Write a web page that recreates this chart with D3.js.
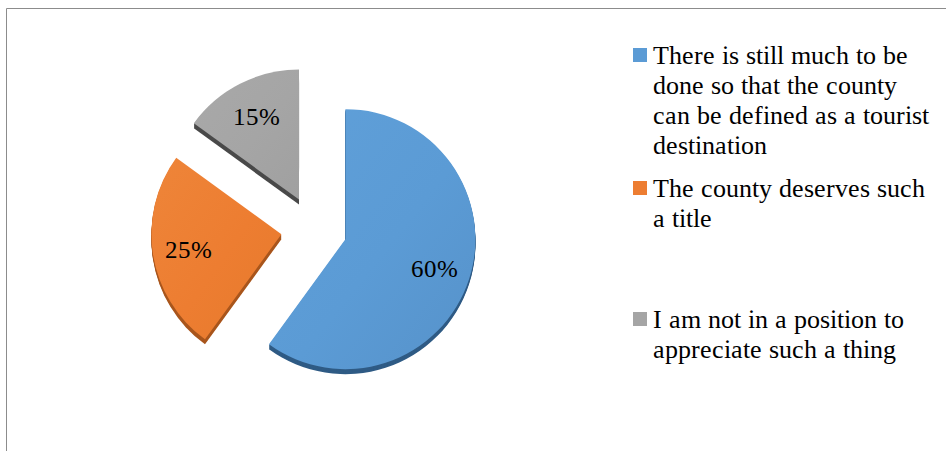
<!DOCTYPE html>
<html>
<head>
<meta charset="utf-8">
<script src="https://cdn.jsdelivr.net/npm/d3@7"></script>
<style>
  @font-face { font-family: "ChartSerif"; src: local("Liberation Serif"), local("LiberationSerif"), local("Times New Roman"); }
  text { font-family: "ChartSerif", "Times New Roman"; }
</style>
</head>
<body style="margin:0">
<svg id="chart" width="946" height="451"></svg>
<script>
// Survey answers (legend lines) and their shares (%)
const categories = [
  ["There is still much to be", "done so that the county", "can be defined as a tourist", "destination"],
  ["The county deserves such", "a title"],
  ["I am not in a position to", "appreciate such a thing"]
];
const values = [60, 25, 15];
const topColors  = ["#5B9BD5", "#ED7D31", "#A5A5A5"];
const lightColors = ["#60A0D9", "#EE8539", "#A9A9A9"];
const darkColors = ["#5692CA", "#E67A2C", "#A0A0A0"];
const sideColors = ["#2F5B85", "#A9561D", "#4A4A4A"];

const W = 946, H = 451;
const svg = d3.select("#chart");

// frame
svg.append("path")
  .attr("d", `M6.5,${H} V8.5 H${W}`)
  .attr("fill", "none")
  .attr("stroke", "#8C8C8C")
  .attr("stroke-width", 1);

const cx = 314, cy = 229, R = 130, explode = 33, depth = 5;

const pie = d3.pie().sort(null).value(d => d)(values);
const arc = d3.arc().innerRadius(0).outerRadius(R);
const labelArc = d3.arc().innerRadius(R * 0.72).outerRadius(R * 0.72);

const defs = svg.append("defs");
pie.forEach((p, i) => {
  const g = defs.append("linearGradient")
    .attr("id", "face" + i)
    .attr("x1", "0").attr("y1", "0").attr("x2", "1").attr("y2", "1");
  g.append("stop").attr("offset", "0%").attr("stop-color", lightColors[i]);
  g.append("stop").attr("offset", "55%").attr("stop-color", topColors[i]);
  g.append("stop").attr("offset", "100%").attr("stop-color", darkColors[i]);
});

const slices = svg.append("g")
  .selectAll("g")
  .data(pie)
  .join("g")
  .attr("transform", d => {
    const a = (d.startAngle + d.endAngle) / 2;
    const x = cx + Math.sin(a) * explode;
    const y = cy - Math.cos(a) * explode;
    return `translate(${x},${y})`;
  });

// extruded side
slices.each(function (d, i) {
  const g = d3.select(this);
  for (let k = depth; k >= 1; k--) {
    g.append("path")
      .attr("d", arc(d))
      .attr("transform", `translate(0,${k})`)
      .attr("fill", sideColors[i]);
  }
});

// top face
slices.append("path")
  .attr("d", arc)
  .attr("fill", (d, i) => `url(#face${i})`);

// value labels
slices.append("text")
  .attr("font-size", 25)
  .attr("transform", d => `translate(${labelArc.centroid(d)})`)
  .attr("text-anchor", "middle")
  .attr("dy", "0.35em")
  .attr("fill", "#000")
  .text(d => d.data + "%");

// legend
const legendX = 633, legendTextX = 653, lineH = 30;
const legendTops = [64, 197, 328];

categories.forEach((lines, i) => {
  svg.append("rect")
    .attr("x", legendX)
    .attr("y", legendTops[i] - 16)
    .attr("width", 14)
    .attr("height", 14)
    .attr("fill", topColors[i]);
  svg.append("text")
    .attr("font-size", 26)
    .attr("fill", "#000")
    .attr("x", legendTextX)
    .attr("y", legendTops[i])
    .selectAll("tspan")
    .data(lines)
    .join("tspan")
    .attr("x", legendTextX)
    .attr("dy", (d, j) => j === 0 ? 0 : lineH)
    .text(d => d);
});
</script>
</body>
</html>
